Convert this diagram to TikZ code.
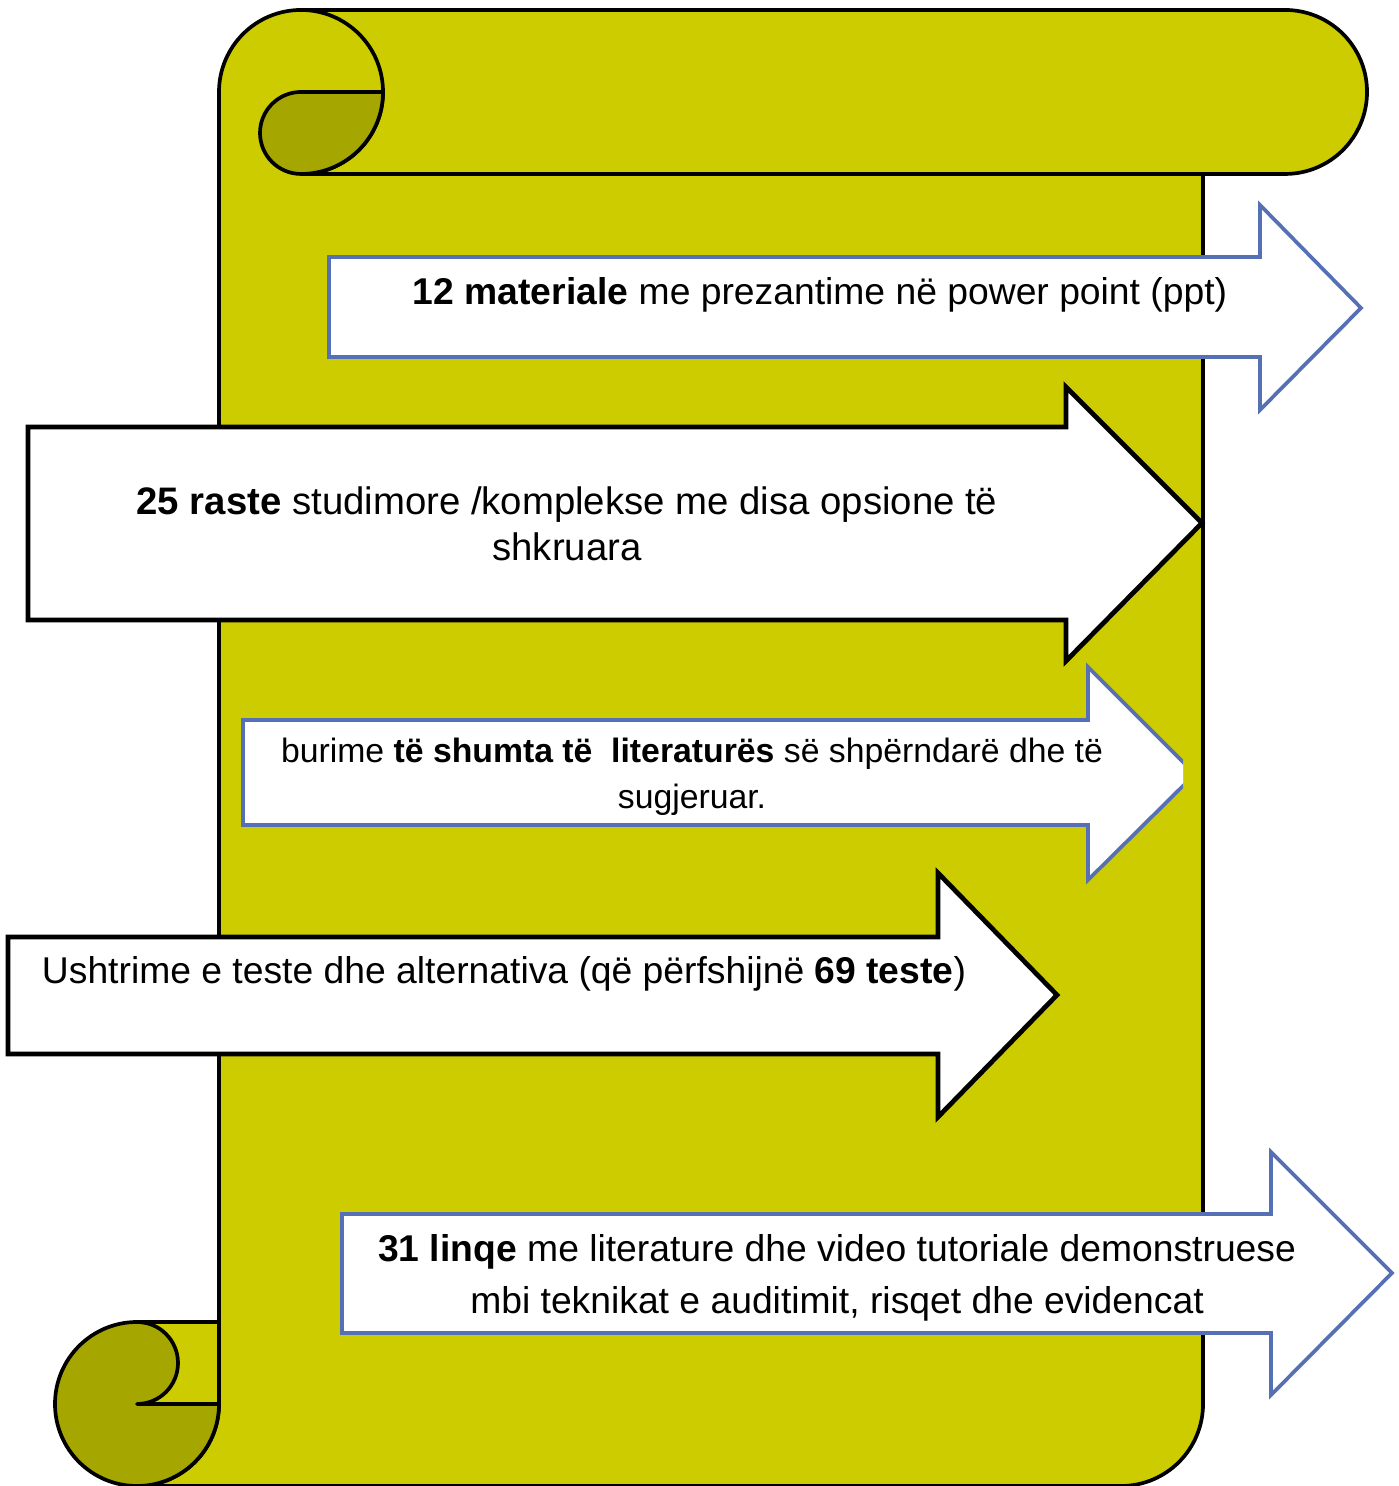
\documentclass[tikz,border=0pt]{standalone}
\usepackage{fontspec}
\setmainfont{Liberation Sans}
\definecolor{scroll}{RGB}{204,204,0}
\definecolor{scrolldark}{RGB}{166,166,0}
\definecolor{arrowblue}{RGB}{85,112,181}
\tikzset{
  scrollline/.style={draw=black,line width=1.05pt,line join=round},
  scrollbody/.style={scrollline,fill=scroll},
  scrollcurl/.style={scrollline,fill=scrolldark},
  bluearrow/.style={draw=arrowblue,fill=white,line width=1.05pt,line join=miter},
  blackarrow/.style={draw=black,fill=white,line width=1.35pt,line join=miter},
  label/.style={align=center,inner sep=0pt,text=black},
}
\begin{document}
\begin{tikzpicture}[x=0.01cm,y=0.01cm]
\useasboundingbox (0,0) rectangle (1398,1486);
% scroll body
\path[scrollbody] (219,82) -- (219,1394) arc[start angle=180,end angle=90,radius=82]
  -- (1285,1476) arc[start angle=90,end angle=-90,radius=82]
  -- (1203,1312) -- (1203,82) arc[start angle=0,end angle=-90,radius=82]
  -- (137,0) arc[start angle=-90,end angle=0,radius=82] -- cycle;
\draw[scrollline] (301,1312) -- (1203,1312);
% top curl
\draw[scrollline] (301,1476) arc[start angle=90,end angle=-90,radius=82];
\path[scrollcurl] (301,1394) -- (383,1394) arc[start angle=0,end angle=-90,radius=82]
  arc[start angle=-90,end angle=-270,radius=41] -- cycle;
% bottom curl
\path[scrollcurl] (137,82) circle[radius=82];
\path[scrollbody] (137,82) -- (219,82) -- (219,164) -- (137,164)
  arc[start angle=90,end angle=-90,radius=41] -- cycle;
% arrows
\path[bluearrow] (329,1229) -- (1260,1229) -- (1260,1281) -- (1361,1178)
  -- (1260,1076) -- (1260,1129) -- (329,1129) -- cycle;
\path[blackarrow] (28,1059) -- (1066,1059) -- (1066,1099) -- (1202,963)
  -- (1066,825) -- (1066,866) -- (28,866) -- cycle;
\begin{scope}
  \clip (0,0) rectangle (1183,1486);
  \path[bluearrow] (243,766) -- (1088,766) -- (1088,819) -- (1195,712)
    -- (1088,606) -- (1088,661) -- (243,661) -- cycle;
\end{scope}
\path[blackarrow] (8,549) -- (938,549) -- (938,613) -- (1057,491)
  -- (938,369) -- (938,432) -- (8,432) -- cycle;
\path[bluearrow] (342,272) -- (1271,272) -- (1271,334) -- (1392,213)
  -- (1271,91) -- (1271,153) -- (342,153) -- cycle;
% texts
\node[label,font=\fontsize{10.6}{13.5}\selectfont] (t1) at (820,1191)
  {\textbf{12 materiale} me prezantime në power point (ppt)};
\node[label,font=\fontsize{10.9}{13.1}\selectfont] (t2) at (567,962)
  {\textbf{25 raste} studimore /komplekse me disa opsione të\\shkruara};
\node[label,font=\fontsize{9.6}{13.1}\selectfont] (t3) at (692,709)
  {burime \textbf{të shumta të\ \ literaturës} së shpërndarë dhe të\\sugjeruar.};
\node[label,font=\fontsize{10.6}{13.5}\selectfont] (t4) at (504,512)
  {Ushtrime e teste dhe alternativa (që përfshijnë \textbf{69 teste})};
\node[label,font=\fontsize{10.6}{14.8}\selectfont] (t5) at (837,208)
  {\textbf{31 linqe} me literature dhe video tutoriale demonstruese\\mbi teknikat e auditimit, risqet dhe evidencat};
\end{tikzpicture}
\end{document}
